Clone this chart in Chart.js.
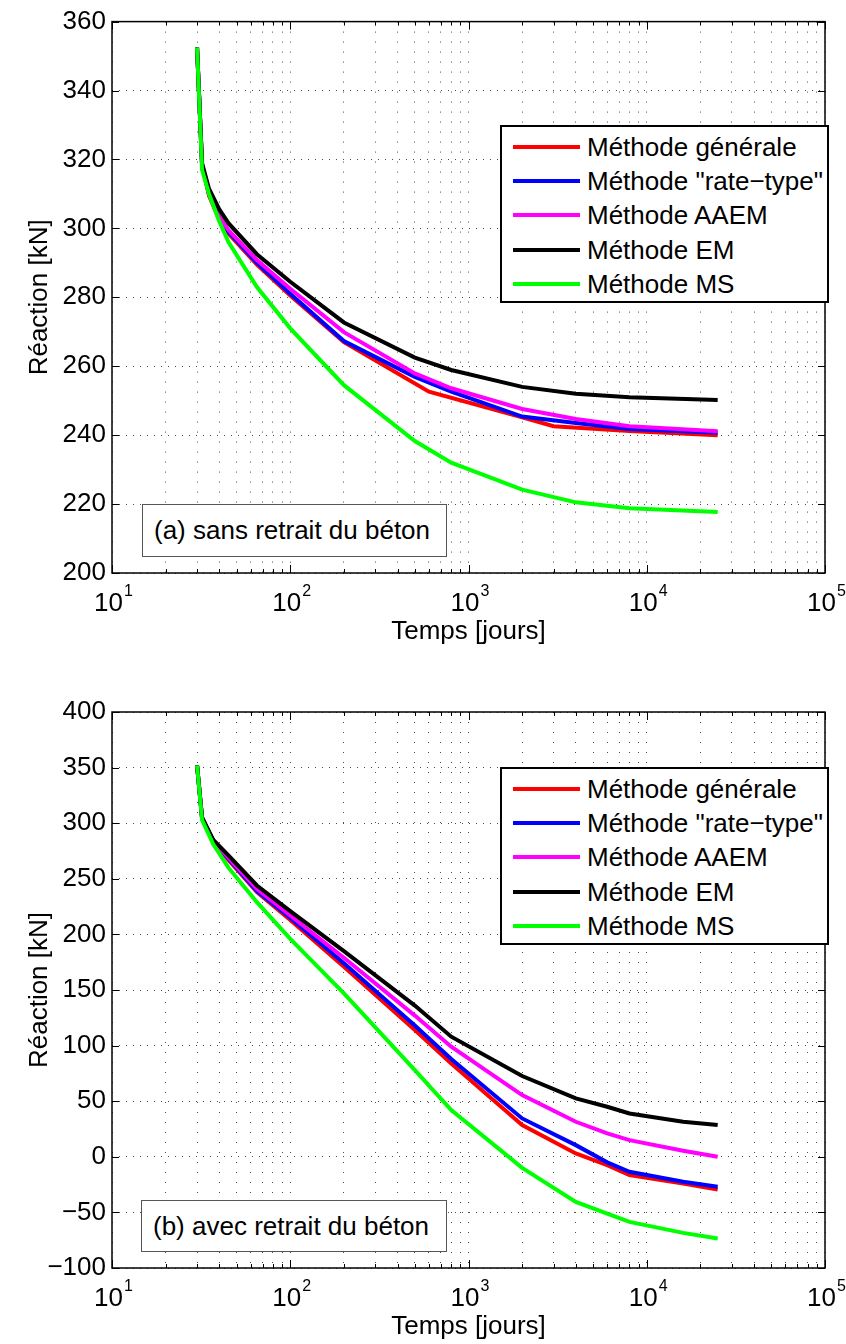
<!DOCTYPE html>
<html>
<head>
<meta charset="utf-8">
<script src="https://cdn.jsdelivr.net/npm/chart.js@4.4.0/dist/chart.umd.min.js"></script>
<style>
  html, body { margin: 0; padding: 0; background: #fff; }
  #page { position: relative; width: 846px; height: 1344px; font-family: "Liberation Sans", Arial, sans-serif; color: #000; }
  .panel { position: absolute; left: 0; width: 846px; height: 672px; }
  .legend { position: absolute; left: 500px; width: 329px; height: 178px; box-sizing: border-box;
            border: 2px solid #000; background: #fff; }
  .legend .row { position: absolute; left: 0; height: 34px; width: 100%; }
  .legend .swatch { position: absolute; left: 11px; top: 15px; width: 67px; height: 4px; }
  .legend .lbl { position: absolute; left: 85px; top: 0; line-height: 34px; font-size: 26px; white-space: nowrap; }
  .note { position: absolute; box-sizing: border-box; border: 1px solid #555; background: #fff;
          font-size: 26px; line-height: 50px; padding-left: 11px; white-space: nowrap; }
</style>
</head>
<body>
<div id="page">
  <canvas id="chart-a" class="panel" style="top:0" width="846" height="672"></canvas>
  <canvas id="chart-b" class="panel" style="top:672px" width="846" height="672"></canvas>
  <div id="legend-a" class="legend" style="top:125px"></div>
  <div id="legend-b" class="legend" style="top:767px"></div>
  <div class="note" style="left:142px; top:504px; width:305px; height:53px;">(a) sans retrait du béton</div>
  <div class="note" style="left:141px; top:1200px; width:306px; height:52px;">(b) avec retrait du béton</div>
</div>

<script>
// ── Data ──────────────────────────────────────────────────

const SERIES_NAMES  = ['Méthode générale', 'Méthode "rate\u2212type"', 'Méthode AAEM', 'Méthode EM', 'Méthode MS'];
const SERIES_COLORS = ['#ff0000', '#0000ff', '#ff00ff', '#000000', '#00ff00'];

// (a) sans retrait — time in days
const TIME_A     = [30, 32, 35, 40, 45, 65, 100, 200, 500, 800, 2000, 4000, 8000, 25000];
const TIME_A_GEN = [30, 32, 35, 40, 45, 65, 100, 200, 600, 2000, 3000, 8000, 25000];
const GEN_A  = [352.5, 318.5, 309.5, 302.5, 298.5, 289.5, 280.5, 267.0, 252.6, 245.2, 242.6, 241.2, 240.0];
const RATE_A = [352.5, 318.5, 310.0, 303.0, 299.0, 290.0, 281.0, 267.3, 256.9, 252.6, 245.4, 243.5, 241.8, 240.7];
const AAEM_A = [352.5, 318.5, 310.0, 303.5, 299.5, 290.8, 282.5, 269.9, 257.9, 253.6, 247.6, 244.7, 242.6, 241.1];
const EM_A   = [352.5, 319.0, 311.5, 305.5, 301.5, 292.5, 284.5, 272.7, 262.5, 258.9, 254.0, 252.0, 251.0, 250.2];
const MS_A   = [352.5, 317.0, 310.0, 302.0, 296.0, 283.0, 271.0, 254.5, 238.3, 232.0, 224.2, 220.5, 218.8, 217.7];

// (b) avec retrait
const TIME_B = [30, 32, 37, 45, 65, 100, 200, 500, 800, 2000, 4000, 6000, 8000, 16000, 25000];
const GEN_B  = [352, 305, 283, 267, 238, 213, 171, 114,  84, 28.5,   3.0,  -7.5, -16.5, -24.0, -29.4];
const RATE_B = [352, 305, 284, 268, 239, 215, 174, 118,  88, 34.5,  10.5,  -5.0, -13.5, -22.5, -27.0];
const AAEM_B = [352, 305, 284, 269, 241, 217, 179, 127,  99, 55.5,  31.5,  21.0,  15.0,   5.5,   0.0];
const EM_B   = [352, 305, 285, 271, 244, 221, 185, 136, 108, 72.6,  52.5,  45.0,  39.0,  31.6,  28.5];
const MS_B   = [352, 303, 281, 260, 229, 196, 147,  78,  42, -10.0, -40.5, -51.0, -58.5, -68.4, -73.4];

const X_MIN = 10, X_MAX = 1e5;
const Y_TICKS_A = { min: 200,  max: 360, step: 20 };
const Y_TICKS_B = { min: -100, max: 400, step: 50 };

// ── Helpers ───────────────────────────────────────────────

const FONT = '"Liberation Sans", Arial, sans-serif';

const pts = (xs, ys) => xs.map((x, i) => ({ x, y: ys[i] }));
const isDecade = v => Math.abs(Math.log10(v) - Math.round(Math.log10(v))) < 1e-9;

function buildDatasets(series) {
  // later series are drawn on top (as in the original plot order)
  return series.map((s, i) => ({
    label: SERIES_NAMES[i],
    data: s,
    borderColor: SERIES_COLORS[i],
    backgroundColor: SERIES_COLORS[i],
    borderWidth: 4,
    pointRadius: 0,
    tension: 0,
    order: series.length - i,
  }));
}

// box, inward ticks and 10^n labels, MATLAB-like
const matlabAxes = {
  id: 'matlabAxes',
  afterDraw(chart) {
    const { ctx, chartArea: a, scales: { x, y } } = chart;
    ctx.save();
    ctx.strokeStyle = '#000';
    ctx.lineWidth = 1;
    ctx.beginPath();
    x.ticks.forEach(t => {
      const px = Math.round(x.getPixelForValue(t.value)) + 0.5;
      const len = isDecade(t.value) ? 8 : 4;
      ctx.moveTo(px, a.bottom); ctx.lineTo(px, a.bottom - len);
      ctx.moveTo(px, a.top);    ctx.lineTo(px, a.top + len);
    });
    y.ticks.forEach(t => {
      const py = Math.round(y.getPixelForValue(t.value)) + 0.5;
      ctx.moveTo(a.left, py);  ctx.lineTo(a.left + 7, py);
      ctx.moveTo(a.right, py); ctx.lineTo(a.right - 7, py);
    });
    ctx.stroke();

    ctx.lineWidth = 1.5;
    ctx.strokeRect(a.left, a.top, a.right - a.left, a.bottom - a.top);

    // decade labels with superscript exponent
    ctx.fillStyle = '#000';
    ctx.textBaseline = 'middle';
    ctx.textAlign = 'left';
    x.ticks.filter(t => isDecade(t.value)).forEach(t => {
      const px  = x.getPixelForValue(t.value);
      const exp = String(Math.round(Math.log10(t.value)));
      ctx.font = `26px ${FONT}`;
      const wb = ctx.measureText('10').width;
      ctx.font = `16px ${FONT}`;
      const we = ctx.measureText(exp).width;
      const x0 = px - (wb + we) / 2 + 1;
      ctx.font = `26px ${FONT}`;
      ctx.fillText('10', x0, a.bottom + 31);
      ctx.font = `16px ${FONT}`;
      ctx.fillText(exp, x0 + wb + 1, a.bottom + 19);
    });
    ctx.restore();
  },
};

function makeChart(canvasId, datasets, yt, layout) {
  return new Chart(document.getElementById(canvasId).getContext('2d'), {
    type: 'line',
    data: { datasets },
    plugins: [matlabAxes],
    options: {
      responsive: false,
      animation: false,
      devicePixelRatio: 1,
      layout: { padding: { left: 0, right: 21, top: layout.top, bottom: 0 } },
      plugins: { legend: { display: false }, tooltip: { enabled: false } },
      scales: {
        x: {
          type: 'logarithmic',
          min: X_MIN, max: X_MAX,
          afterBuildTicks: s => {
            const t = [];
            for (let e = 1; e < 5; e++) for (let m = 1; m < 10; m++) t.push({ value: m * 10 ** e });
            t.push({ value: X_MAX });
            s.ticks = t;
          },
          afterFit: s => { s.height = layout.xAxisH; },
          ticks: { display: false },
          grid: { color: 'rgba(0,0,0,0.7)', lineWidth: 1, drawTicks: false },
          border: { display: false, dash: [1, 9] },
          title: {
            display: true, text: 'Temps [jours]', color: '#000',
            font: { family: FONT, size: 26 }, padding: { top: 0, bottom: layout.xTitlePad },
          },
        },
        y: {
          min: yt.min, max: yt.max,
          afterFit: s => { s.width = 112; },
          ticks: {
            stepSize: yt.step, padding: 6, color: '#000',
            font: { family: FONT, size: 26 },
            callback: v => String(v).replace('-', '\u2212'),
          },
          grid: { color: 'rgba(0,0,0,0.7)', lineWidth: 1, drawTicks: false },
          border: { display: false, dash: [1, 6] },
          title: {
            display: true, text: 'Réaction [kN]', color: '#000',
            font: { family: FONT, size: 26 }, padding: { top: 24, bottom: 0 },
          },
        },
      },
    },
  });
}

function buildLegend(id) {
  const box = document.getElementById(id);
  SERIES_NAMES.forEach((name, i) => {
    const row = document.createElement('div');
    row.className = 'row';
    row.style.top = (3 + i * 34.2) + 'px';
    row.innerHTML = `<span class="swatch" style="background:${SERIES_COLORS[i]}"></span><span class="lbl"></span>`;
    row.querySelector('.lbl').textContent = name;
    box.appendChild(row);
  });
}

// ── Build ─────────────────────────────────────────────────

makeChart('chart-a', buildDatasets([
  pts(TIME_A_GEN, GEN_A), pts(TIME_A, RATE_A), pts(TIME_A, AAEM_A), pts(TIME_A, EM_A), pts(TIME_A, MS_A),
]), Y_TICKS_A, { top: 17, xAxisH: 99, xTitlePad: 25 });

makeChart('chart-b', buildDatasets([
  pts(TIME_B, GEN_B), pts(TIME_B, RATE_B), pts(TIME_B, AAEM_B), pts(TIME_B, EM_B), pts(TIME_B, MS_B),
]), Y_TICKS_B, { top: 40, xAxisH: 76, xTitlePad: 2 });

buildLegend('legend-a');
buildLegend('legend-b');
</script>
</body>
</html>
